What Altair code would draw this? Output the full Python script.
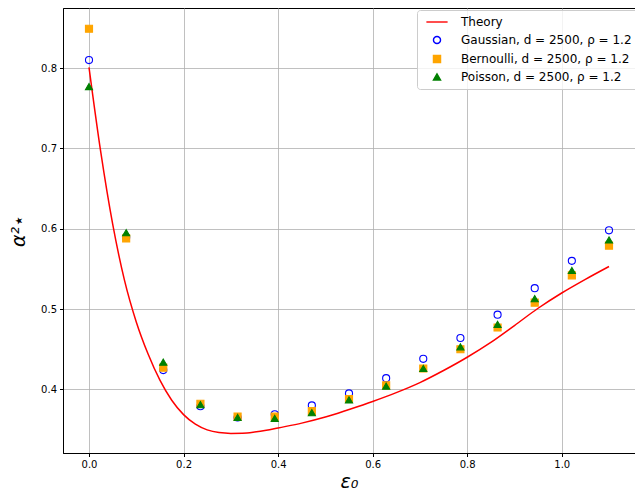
import altair as alt
import pandas as pd

# ---- data ----
x_sim = [0.0, 0.0786, 0.1571, 0.2357, 0.3143, 0.3929, 0.4714, 0.55,
         0.6286, 0.7071, 0.7857, 0.8643, 0.9429, 1.0214, 1.1]
gaussian = [0.810, 0.589, 0.424, 0.379, 0.365, 0.369, 0.380, 0.395,
            0.414, 0.438, 0.464, 0.493, 0.526, 0.560, 0.598]
bernoulli = [0.849, 0.588, 0.427, 0.382, 0.366, 0.366, 0.373, 0.388,
             0.405, 0.426, 0.450, 0.477, 0.508, 0.542, 0.579]
poisson = [0.777, 0.595, 0.434, 0.381, 0.365, 0.364, 0.371, 0.387,
           0.404, 0.426, 0.453, 0.481, 0.513, 0.548, 0.586]

x_theory = [0.0, 0.025, 0.05, 0.075, 0.1, 0.125, 0.15, 0.175, 0.2, 0.225,
            0.25, 0.275, 0.3, 0.325, 0.35, 0.375, 0.4, 0.45, 0.5, 0.55,
            0.6, 0.65, 0.7, 0.75, 0.8, 0.85, 0.9, 0.95, 1.0, 1.05, 1.1]
y_theory = [0.801, 0.695, 0.606, 0.536, 0.484, 0.444, 0.4115, 0.3865, 0.3686,
            0.3567, 0.3496, 0.3462, 0.3452, 0.3454, 0.3468, 0.3490, 0.352,
            0.358, 0.3655, 0.375, 0.385, 0.396, 0.4085, 0.4235, 0.440, 0.4585,
            0.4795, 0.501, 0.520, 0.537, 0.553]

series_labels = ["Theory",
                 "Gaussian, d = 2500, ρ = 1.2",
                 "Bernoulli, d = 2500, ρ = 1.2",
                 "Poisson, d = 2500, ρ = 1.2"]
stroke_colors = ["red", "blue", "orange", "green"]
fill_colors = ["transparent", "transparent", "orange", "green"]
shapes = ["M-3,0L3,0", "circle", "square", "triangle-up"]

x_ticks = [0.0, 0.2, 0.4, 0.6, 0.8, 1.0]
y_ticks = [0.4, 0.5, 0.6, 0.7, 0.8]

# ---- tables ----
theory_df = pd.DataFrame({"x": x_theory, "y": y_theory})
rows = []
for lab, vals in zip(series_labels[1:], [gaussian, bernoulli, poisson]):
    for xv, yv in zip(x_sim, vals):
        rows.append({"x": xv, "y": yv, "series": lab})
pts_df = pd.DataFrame(rows)

xscale = alt.Scale(domain=[-0.055, 1.155], nice=False, zero=False)
yscale = alt.Scale(domain=[0.3208, 0.8748], nice=False, zero=False)

xaxis = alt.Axis(values=x_ticks, format=".1f", title="ε₀", titlePadding=3)
yaxis = alt.Axis(values=y_ticks, format=".1f", title="α²⋆", titlePadding=12)

line = alt.Chart(theory_df).mark_line(color="red", strokeWidth=1.5, interpolate="monotone").encode(
    x=alt.X("x:Q", scale=xscale, axis=xaxis),
    y=alt.Y("y:Q", scale=yscale, axis=yaxis),
)

leg = alt.Legend(title=None)
points = alt.Chart(pts_df).mark_point(size=50, strokeWidth=1.1, opacity=1).encode(
    x=alt.X("x:Q", scale=xscale, axis=xaxis),
    y=alt.Y("y:Q", scale=yscale, axis=yaxis),
    stroke=alt.Stroke("series:N", scale=alt.Scale(domain=series_labels, range=stroke_colors), legend=leg),
    fill=alt.Fill("series:N", scale=alt.Scale(domain=series_labels, range=fill_colors), legend=leg),
    shape=alt.Shape("series:N", scale=alt.Scale(domain=series_labels, range=shapes), legend=leg),
)

chart = (
    alt.layer(line, points)
    .properties(
        width=572,
        height=445,
        autosize=alt.AutoSizeParams(type="none"),
        padding={"left": 55, "top": 0, "right": 0, "bottom": 38},
    )
    .configure_view(stroke="black", strokeWidth=1)
    .configure_axis(
        labelFont="DejaVu Sans",
        labelFontSize=10,
        labelColor="black",
        labelPadding=3,
        tickColor="black",
        tickSize=3.5,
        domainColor="black",
        gridColor="#b0b0b0",
        gridWidth=0.8,
        titleFont="DejaVu Sans",
        titleFontSize=19,
        titleFontWeight="normal",
        titleFontStyle="italic",
        titleColor="black",
    )
    .configure_legend(
        orient="none",
        legendX=354,
        legendY=2,
        padding=6,
        fillColor="rgba(255,255,255,0.8)",
        strokeColor="#cccccc",
        cornerRadius=3,
        labelFont="DejaVu Sans",
        labelFontSize=12,
        labelColor="black",
        labelLimit=400,
        symbolSize=50,
        symbolStrokeWidth=1.4,
        symbolOffset=8,
        labelOffset=18,
        rowPadding=5,
    )
)

chart.save("out.html", embed_options={"renderer": "svg", "actions": False})
